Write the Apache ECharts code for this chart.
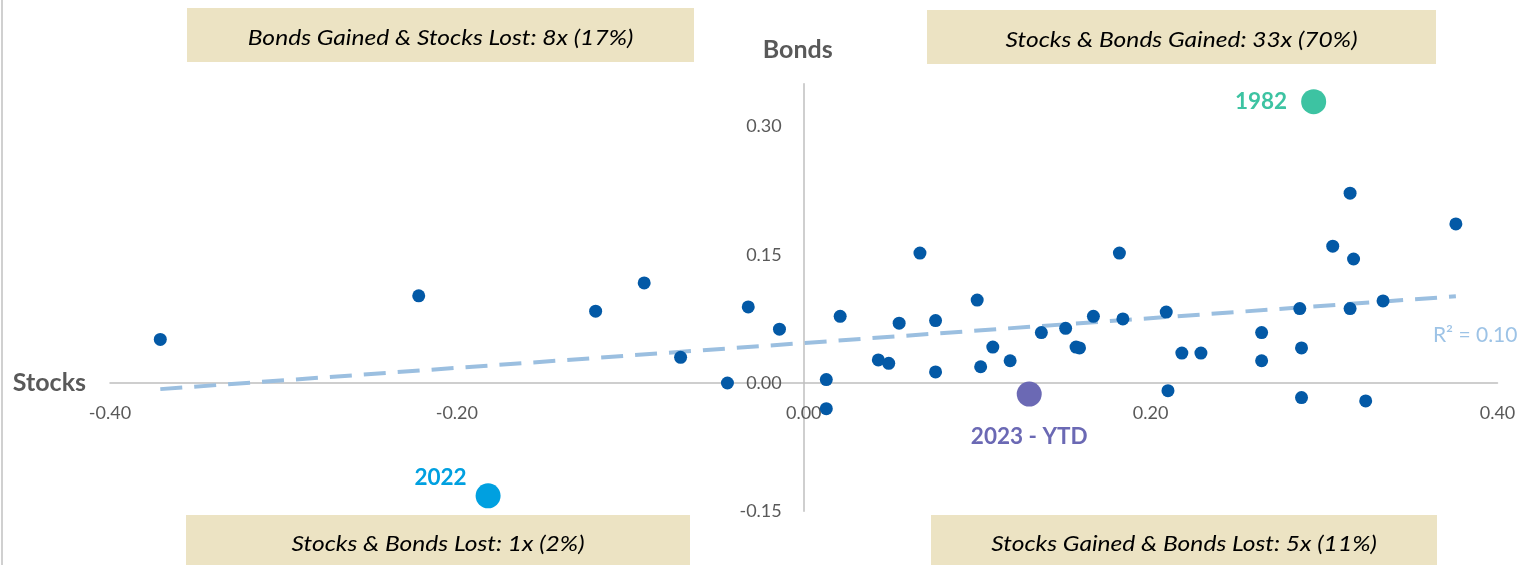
<!DOCTYPE html>
<html>
<head>
<meta charset="utf-8">
<script src="https://cdn.jsdelivr.net/npm/echarts@6.0.0/dist/echarts.min.js"></script>
<style>
  html, body { margin: 0; padding: 0; background: #fff; }
  #main { width: 1536px; height: 565px; }
</style>
</head>
<body>
<div id="main"></div>
<script>
// yearly returns
const stockReturns = [
  -0.371, -0.222, -0.120, -0.092, -0.071, -0.044, -0.032, -0.014,
  0.013, 0.013, 0.021, 0.043, 0.049, 0.055, 0.067, 0.076, 0.076, 0.100,
  0.102, 0.109, 0.119, 0.137, 0.151, 0.157, 0.159, 0.167, 0.182, 0.184,
  0.209, 0.210, 0.218, 0.229, 0.264, 0.264, 0.286, 0.287, 0.287, 0.315,
  0.305, 0.317, 0.315, 0.324, 0.334, 0.376
];
const bondReturns = [
  0.051, 0.102, 0.084, 0.117, 0.030, 0.000, 0.089, 0.063,
  0.004, -0.030, 0.078, 0.027, 0.023, 0.070, 0.152, 0.073, 0.013, 0.097,
  0.019, 0.042, 0.026, 0.059, 0.064, 0.042, 0.041, 0.078, 0.152, 0.075,
  0.083, -0.009, 0.035, 0.035, 0.059, 0.026, 0.087, 0.041, -0.017, 0.222,
  0.160, 0.145, 0.087, -0.021, 0.096, 0.186
];

const highlightYears = ['1982', '2022', '2023 - YTD'];
const highlightStocks = [0.294, -0.182, 0.130];
const highlightBonds = [0.329, -0.132, -0.013];
const highlightColors = ['#3dc3a2', '#00a0e0', '#6b69b4'];

const quadrantLabels = [
  'Bonds Gained & Stocks Lost: 8x (17%)',
  'Stocks & Bonds Gained: 33x (70%)',
  'Stocks & Bonds Lost: 1x (2%)',
  'Stocks Gained & Bonds Lost: 5x (11%)'
];
const rSquaredText = 'R² = 0.10';

const FONT = 'Lato';

// linear trend over every year incl. the highlighted ones
const allX = stockReturns.concat(highlightStocks);
const allY = bondReturns.concat(highlightBonds);
const n = allX.length;
const mx = allX.reduce((a, b) => a + b, 0) / n;
const my = allY.reduce((a, b) => a + b, 0) / n;
let sxy = 0, sxx = 0;
for (let i = 0; i < n; i++) {
  sxy += (allX[i] - mx) * (allY[i] - my);
  sxx += (allX[i] - mx) * (allX[i] - mx);
}
const slope = sxy / sxx;
const icpt = my - slope * mx;
const xMin = Math.min(...allX), xMax = Math.max(...allX);
const trend = [[xMin, icpt + slope * xMin], [xMax, icpt + slope * xMax]];

const points = stockReturns.map((x, i) => [x, bondReturns[i]]);

// grid box, axes get pulled in to cross at 0,0
const G = { left: 110, right: 38.5, top: 83.75, bottom: 53.75 };
const plotW = 1536 - G.left - G.right, plotH = 565 - G.top - G.bottom;
const xOff = -plotH * (0 - (-0.15)) / (0.35 - (-0.15));
const yOff = -plotW * (0 - (-0.4)) / (0.4 - (-0.4));

const labelPos = [
  { position: 'left', distance: 14, offset: [0, 0] },
  { position: 'left', distance: 9, offset: [0, -18] },
  { position: 'bottom', distance: 19, offset: [0, 0] }
];
const highlightSeries = highlightYears.map((yr, i) => ({
  type: 'scatter',
  z: 4,
  symbolSize: 25,
  data: [[highlightStocks[i], highlightBonds[i]]],
  itemStyle: { color: highlightColors[i], opacity: 1 },
  label: {
    show: true,
    formatter: yr,
    position: labelPos[i].position,
    distance: labelPos[i].distance,
    offset: labelPos[i].offset,
    color: highlightColors[i],
    fontFamily: FONT,
    fontWeight: 'bold',
    fontSize: 22.5
  }
}));

const boxes = [
  { x: 187, y: 8, w: 507, h: 54 },
  { x: 927, y: 10, w: 509, h: 54 },
  { x: 186, y: 515, w: 504, h: 55 },
  { x: 931, y: 515, w: 506, h: 55 }
];
const graphics = [{
  type: 'line', shape: { x1: 2, y1: 0, x2: 2, y2: 565 },
  style: { stroke: '#d0d0d0', lineWidth: 2 }
}];
boxes.forEach((b, i) => {
  graphics.push({
    type: 'rect', shape: { x: b.x, y: b.y, width: b.w, height: b.h },
    style: { fill: '#ece3c3' }, z: 10
  });
  graphics.push({
    type: 'text', x: b.x + b.w / 2, y: i < 2 ? b.y + b.h / 2 + 3 : 544, z: 11,
    scaleX: 1.17,
    style: {
      text: quadrantLabels[i], fill: '#000', font: 'italic 21px Lato',
      textAlign: 'center', textVerticalAlign: 'middle'
    }
  });
});

const chart = echarts.init(document.getElementById('main'));
chart.setOption({
  animation: false,
  grid: { left: G.left, right: G.right, top: G.top, bottom: G.bottom, outerBoundsMode: 'none' },
  xAxis: {
    type: 'value', min: -0.4, max: 0.4, interval: 0.2,
    position: 'bottom', offset: xOff,
    name: 'Stocks', nameLocation: 'start', nameGap: 24, nameMoveOverlap: false,
    nameTextStyle: { color: '#595959', fontFamily: FONT, fontWeight: 'bold', fontSize: 25 },
    axisLine: { onZero: false, lineStyle: { color: '#bfbfbf', width: 1.5 } },
    axisTick: { show: false },
    splitLine: { show: false },
    axisLabel: {
      margin: 21, color: '#595959', fontFamily: FONT, fontSize: 18,
      formatter: v => v.toFixed(2)
    }
  },
  yAxis: {
    type: 'value', min: -0.15, max: 0.35, interval: 0.15,
    position: 'left', offset: yOff,
    name: 'Bonds', nameLocation: 'end', nameGap: 21, nameMoveOverlap: false,
    nameTextStyle: { color: '#595959', fontFamily: FONT, fontWeight: 'bold', fontSize: 25, padding: [0, 12, 0, 0] },
    axisLine: { onZero: false, lineStyle: { color: '#bfbfbf', width: 1.5 } },
    axisTick: { show: false },
    splitLine: { show: false },
    axisLabel: {
      margin: 22, color: '#595959', fontFamily: FONT, fontSize: 18,
      showMaxLabel: false,
      formatter: v => v.toFixed(2)
    }
  },
  series: [
    {
      type: 'line', z: 2, data: trend, showSymbol: false, silent: true,
      lineStyle: { color: '#9bbfe0', width: 4, type: [22, 12] },
      endLabel: {
        show: true, formatter: rSquaredText, offset: [-31, 39],
        color: '#9dc3e6', fontFamily: FONT, fontSize: 21
      }
    },
    {
      type: 'scatter', z: 3, symbolSize: 13, data: points,
      itemStyle: { color: '#0359a6', opacity: 1 }
    }
  ].concat(highlightSeries),
  graphic: graphics
});
</script>
</body>
</html>
